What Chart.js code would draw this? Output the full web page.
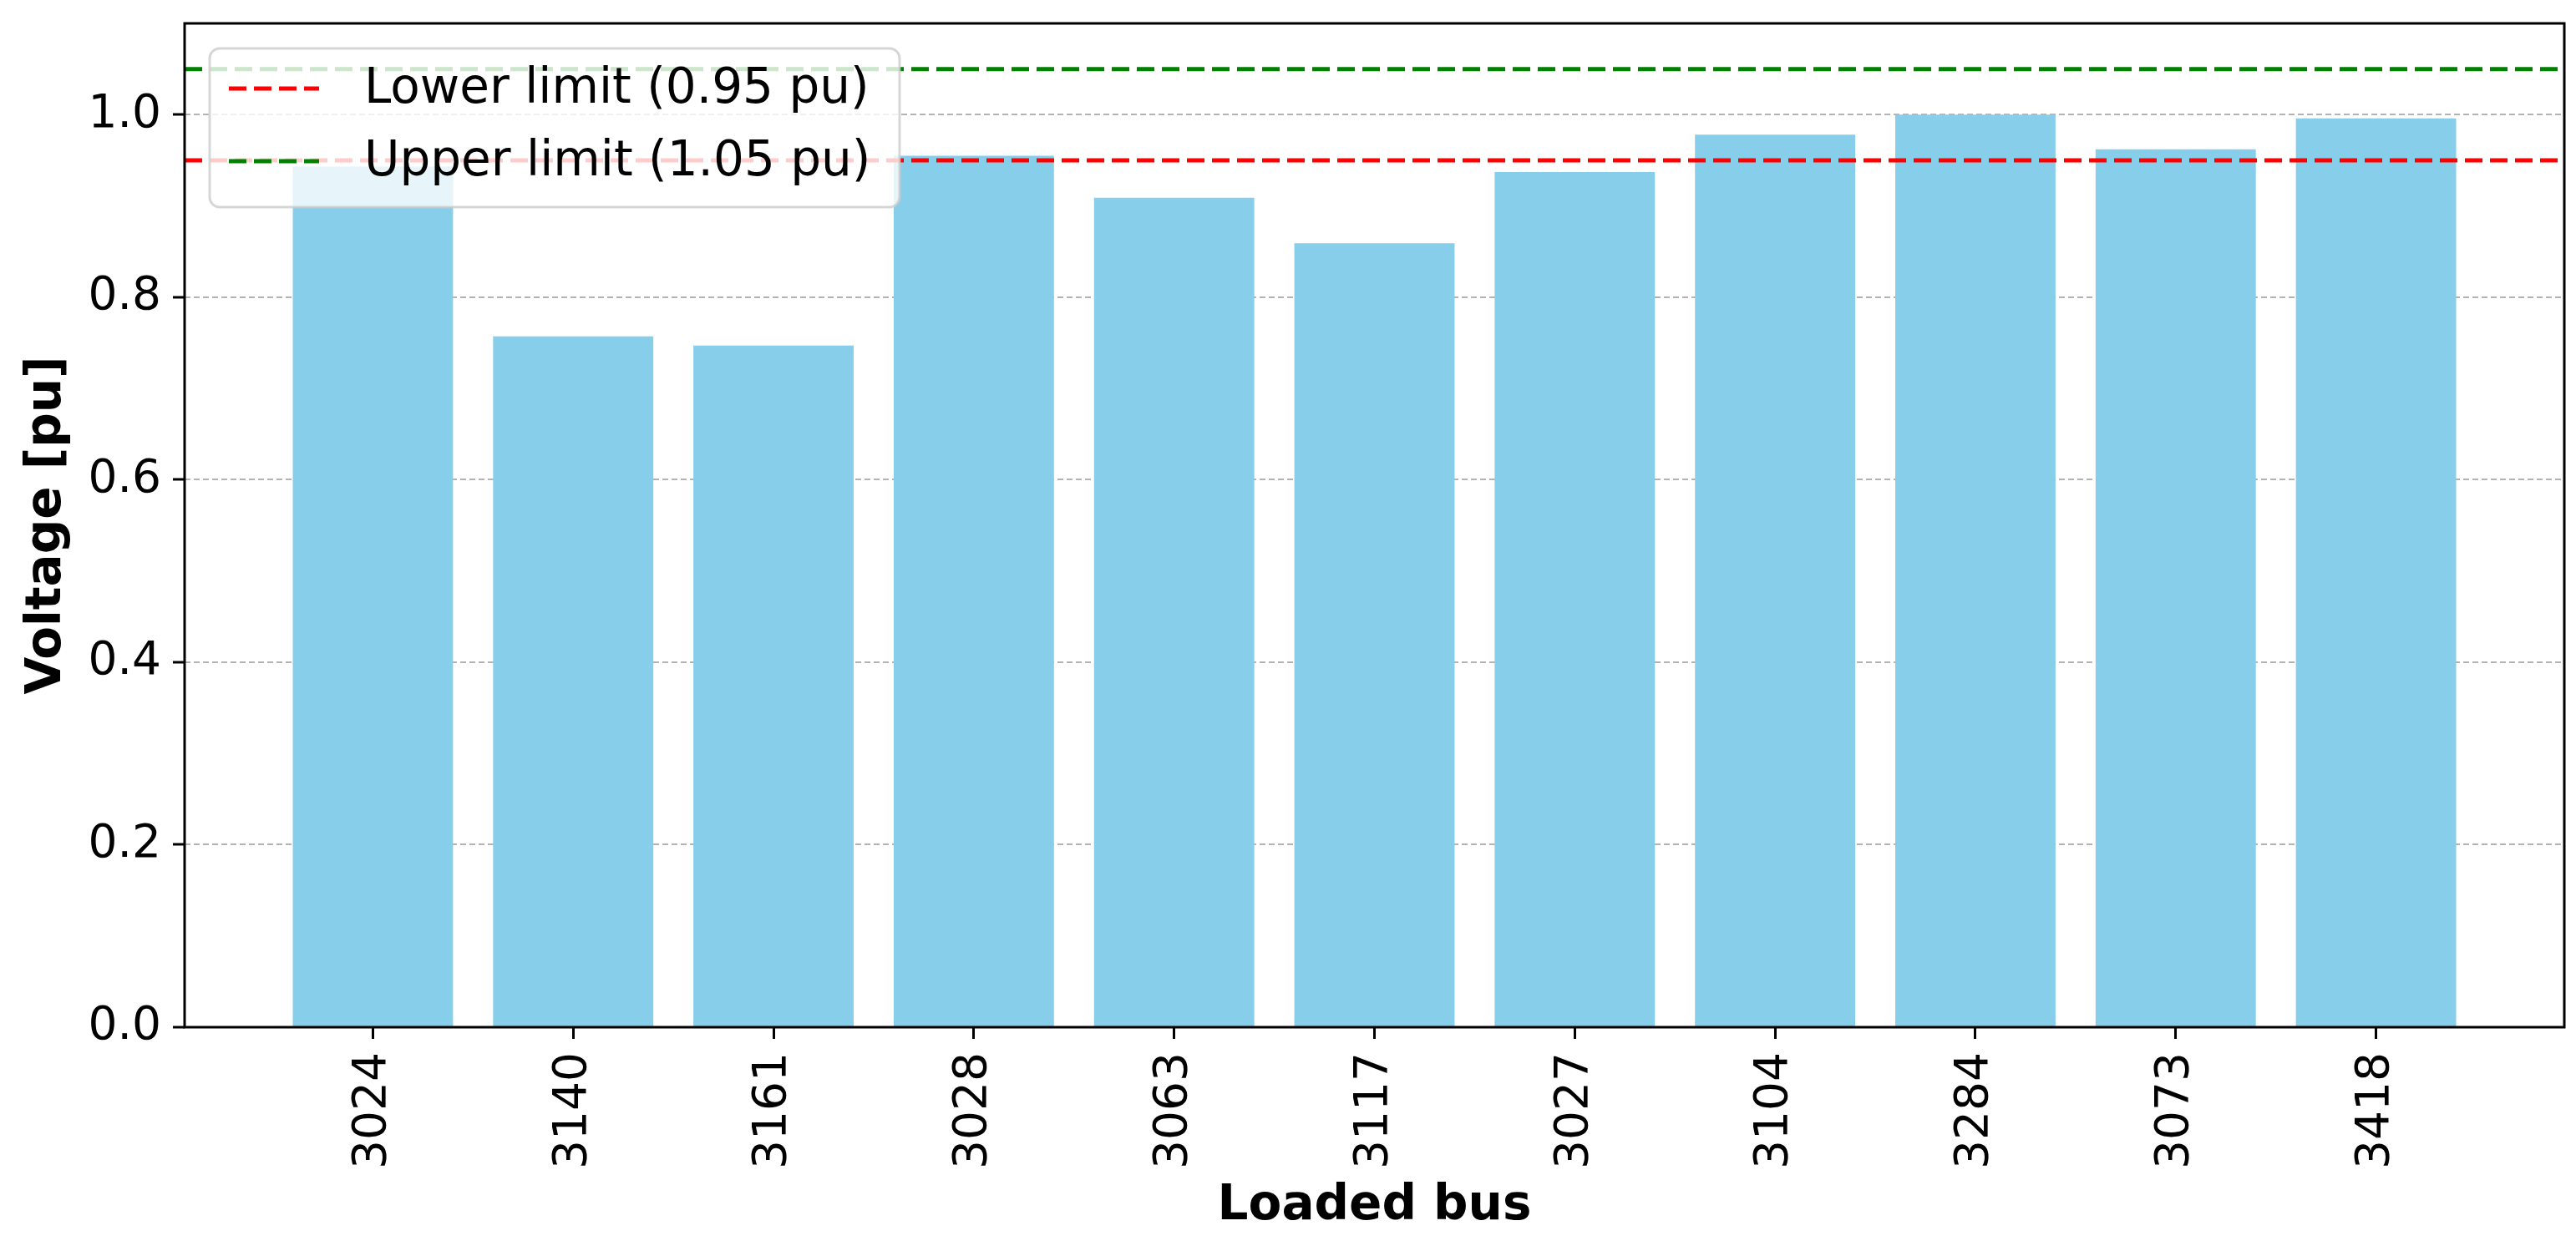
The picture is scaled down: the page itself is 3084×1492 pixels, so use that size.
<!DOCTYPE html>
<html>
<head>
<meta charset="utf-8">
<script src="https://cdn.jsdelivr.net/npm/chart.js@4.4.0/dist/chart.umd.min.js"></script>
<style>
  html, body { margin: 0; padding: 0; background: #fff; }
  #wrap { width: 3084px; height: 1492px; }
</style>
</head>
<body>
<div id="wrap"><canvas id="chart" width="3084" height="1492"></canvas></div>
<script>
const buses = ['3024', '3140', '3161', '3028', '3063', '3117', '3027', '3104', '3284', '3073', '3418'];
const voltages = [0.943, 0.757, 0.747, 0.955, 0.909, 0.859, 0.937, 0.978, 1.0, 0.962, 0.996];
const lowerLimit = 0.95;
const upperLimit = 1.05;
const yTicks = [0, 0.2, 0.4, 0.6, 0.8, 1.0];
const legendLabels = ['Lower limit (0.95 pu)', 'Upper limit (1.05 pu)'];

// matplotlib-style x margins around the bars
const xMin = -0.94;
const xMax = buses.length - 1 + 0.94;

Chart.defaults.font.family = "'DejaVu Sans', sans-serif";
Chart.defaults.color = '#000';

const limitLine = (label, value, color) => ({
  type: 'line',
  label,
  data: [{ x: xMin, y: value }, { x: xMax, y: value }],
  borderColor: color,
  borderWidth: 5,
  borderDash: [21, 9],
  pointRadius: 0,
  fill: false,
  order: 0
});

// frame + legend drawn on top, like matplotlib
const framePlugin = {
  id: 'frameLegend',
  afterDraw(chart) {
    const { ctx, chartArea: a } = chart;
    ctx.save();
    ctx.strokeStyle = '#000';
    ctx.lineWidth = 3;
    ctx.strokeRect(a.left, a.top, a.right - a.left, a.bottom - a.top);

    const bx = a.left + 30, by = a.top + 30, bw = 826, bh = 190, r = 12;
    ctx.beginPath();
    ctx.roundRect(bx, by, bw, bh, r);
    ctx.fillStyle = 'rgba(255,255,255,0.8)';
    ctx.fill();
    ctx.lineWidth = 3;
    ctx.strokeStyle = 'rgba(204,204,204,0.8)';
    ctx.stroke();

    const lines = chart.data.datasets.filter(d => d.type === 'line');
    const rows = [by + 48, by + 135];
    lines.forEach((ds, i) => {
      const y = rows[i];
      ctx.beginPath();
      ctx.setLineDash(ds.borderDash);
      ctx.strokeStyle = ds.borderColor;
      ctx.lineWidth = ds.borderWidth;
      ctx.moveTo(bx + 23, y);
      ctx.lineTo(bx + 131, y);
      ctx.stroke();
      ctx.setLineDash([]);
      ctx.fillStyle = '#000';
      ctx.font = "58px 'DejaVu Sans'";
      ctx.textBaseline = 'middle';
      ctx.textAlign = 'left';
      ctx.fillText(ds.label, bx + 185, y + 2);
    });
    ctx.restore();
  }
};

new Chart(document.getElementById('chart'), {
  data: {
    datasets: [
      limitLine(legendLabels[0], lowerLimit, '#ff0000'),
      limitLine(legendLabels[1], upperLimit, '#008000'),
      {
        type: 'bar',
        label: 'Voltage',
        data: voltages.map((v, i) => ({ x: i, y: v })),
        backgroundColor: '#87ceeb',
        categoryPercentage: 1,
        barPercentage: 0.8,
        order: 1
      }
    ]
  },
  options: {
    responsive: false,
    animation: false,
    devicePixelRatio: 1,
    layout: { padding: { top: 28, right: 14, left: 0, bottom: 0 } },
    plugins: {
      legend: { display: false },
      tooltip: { enabled: false }
    },
    scales: {
      x: {
        type: 'linear',
        min: xMin,
        max: xMax,
        offset: false,
        z: 1,
        afterBuildTicks: (axis) => { axis.ticks = buses.map((b, i) => ({ value: i })); },
        afterFit: (axis) => {
          axis.height = 262;
          axis.paddingLeft = 0;
          axis.paddingRight = 0;
        },
        ticks: {
          autoSkip: false,
          minRotation: 90,
          maxRotation: 90,
          padding: 16,
          font: { size: 55 },
          color: '#000',
          callback: (v) => buses[Math.round(v)] ?? ''
        },
        grid: {
          offset: false,
          drawOnChartArea: false,
          drawTicks: true,
          tickLength: 14,
          tickWidth: 3,
          tickColor: '#000'
        },
        border: { display: false },
        title: {
          display: true,
          text: 'Loaded bus',
          color: '#000',
          font: { size: 58, weight: 'bold' },
          padding: { top: 0, bottom: 12 }
        }
      },
      y: {
        min: 0,
        max: 1.1,
        z: 1,
        afterBuildTicks: (axis) => { axis.ticks = yTicks.map(v => ({ value: v })); },
        afterFit: (axis) => {
          axis.width = 221;
          axis.paddingTop = 0;
          axis.paddingBottom = 0;
        },
        ticks: {
          padding: 14,
          font: { size: 55 },
          color: '#000',
          callback: (v) => v.toFixed(1)
        },
        grid: {
          color: 'rgba(160,160,160,0.8)',
          lineWidth: 2,
          drawTicks: true,
          tickLength: 14,
          tickWidth: 3,
          tickColor: '#000',
          tickBorderDash: []
        },
        border: { display: false, dash: [7, 4] },
        title: {
          display: true,
          text: 'Voltage [pu]',
          color: '#000',
          font: { size: 58, weight: 'bold' },
          padding: { top: 22, bottom: 0 }
        }
      }
    }
  },
  plugins: [framePlugin]
});
</script>
</body>
</html>
